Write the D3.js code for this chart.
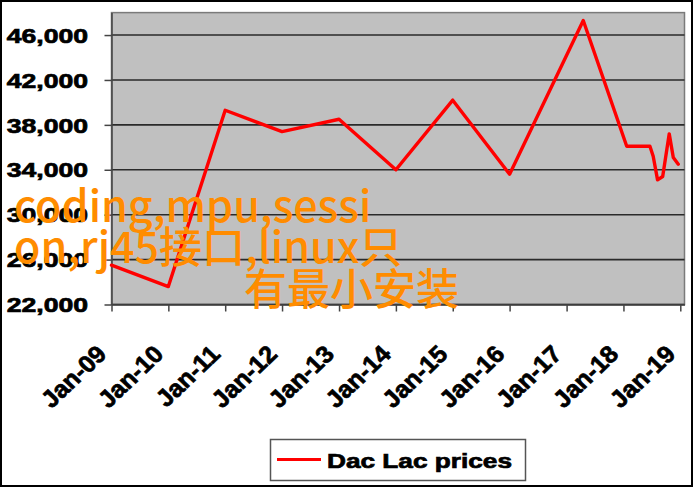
<!DOCTYPE html>
<html>
<head>
<meta charset="utf-8">
<script src="https://cdn.jsdelivr.net/npm/d3@7"></script>
<style>
  html, body { margin: 0; padding: 0; background: #fff; }
  svg { display: block; }
</style>
</head>
<body>
<svg id="chart" width="694" height="489"></svg>
<script>
// ---- data ----
const dates = ["2009-01-01","2010-01-01","2011-01-01","2012-01-01","2013-01-01","2014-01-01","2015-01-01","2016-01-01","2017-04-18","2018-01-22","2018-06-20","2018-07-11","2018-08-08","2018-09-10","2018-10-22","2018-11-17","2018-12-19"];
const prices = [25500, 23600, 39300, 37400, 38500, 34000, 40200, 33600, 47300, 36100, 36100, 35200, 33100, 33400, 37200, 35100, 34500];
const yTicks = [22000, 26000, 30000, 34000, 38000, 42000, 46000];
const xTickLabels = ["Jan-09","Jan-10","Jan-11","Jan-12","Jan-13","Jan-14","Jan-15","Jan-16","Jan-17","Jan-18","Jan-19"];
const xTickDates = ["2009-01-01","2010-01-01","2011-01-01","2012-01-01","2013-01-01","2014-01-01","2015-01-01","2016-01-01","2017-01-01","2018-01-01","2019-01-01"];
const seriesName = "Dac Lac prices";
const overlayLines = ["coding,mpu,sessi", "on,rj45接口,linux只", "有最小安装"];

(function () {
const SX = 1.33;  // horizontal text stretch
const SXR = 1.05; // stretch for rotated labels
const parse = d3.timeParse("%Y-%m-%d");
const svg = d3.select("#chart");

const pLeft = 111.5, pRight = 684.5, pTop = 12.6, pBottom = 304.5;
const x = d3.scaleTime().domain([parse("2009-01-01"), parse("2019-01-28")]).range([pLeft, pRight]);
const y = d3.scaleLinear().domain([22000, 48000]).range([pBottom, pTop]);

const boldText = sel => sel
  .attr("font-family", "Liberation Sans, Arial, sans-serif")
  .attr("font-weight", "bold").attr("fill", "#000")
  .attr("stroke", "#000").attr("stroke-width", 0.7);

// outer frame
svg.append("rect").attr("x", 1).attr("y", 1).attr("width", 691).attr("height", 485)
  .attr("fill", "#fff").attr("stroke", "#000").attr("stroke-width", 2);

// plot area
svg.append("rect").attr("x", pLeft).attr("y", pTop).attr("width", pRight - pLeft).attr("height", pBottom - pTop)
  .attr("fill", "#c0c0c0").attr("stroke", "#7a7a7a").attr("stroke-width", 1.5);

// gridlines
svg.append("g").selectAll("line").data(yTicks).join("line")
  .attr("x1", pLeft).attr("x2", pRight)
  .attr("y1", d => y(d)).attr("y2", d => y(d))
  .attr("stroke", "#2a2a2a").attr("stroke-width", 1.6);

// y axis
const yAxis = svg.append("g").attr("transform", `translate(${pLeft},0)`)
  .call(d3.axisLeft(y).tickValues(yTicks).tickSize(7).tickSizeOuter(0).tickFormat(d3.format(",")));
yAxis.select(".domain").attr("stroke", "#444").attr("stroke-width", 1.5);
yAxis.selectAll(".tick line").attr("stroke", "#444").attr("stroke-width", 1.5);
yAxis.selectAll(".tick text")
  .attr("x", -23.5 / SX).attr("dy", "0.36em")
  .attr("transform", `scale(${SX},1)`)
  .attr("font-size", 20)
  .call(boldText);

// x axis
const xAxis = svg.append("g").attr("transform", `translate(0,${pBottom})`)
  .call(d3.axisBottom(x).tickValues(xTickDates.map(parse)).tickSize(7).tickSizeOuter(0)
    .tickFormat((d, i) => xTickLabels[i]));
xAxis.select(".domain").attr("stroke", "#444").attr("stroke-width", 1.5);
xAxis.selectAll(".tick line").attr("stroke", "#444").attr("stroke-width", 1.5);
xAxis.selectAll(".tick text")
  .attr("x", 0).attr("y", 0).attr("dy", 0)
  .attr("text-anchor", "end")
  .attr("transform", `translate(-4,51) scale(${SXR},1) rotate(-45)`)
  .attr("font-size", 24)
  .call(boldText);

// line
const line = d3.line().x((d, i) => x(parse(dates[i]))).y(d => y(d));
svg.append("path").datum(prices)
  .attr("d", line)
  .attr("fill", "none").attr("stroke", "#ff0000").attr("stroke-width", 3.4)
  .attr("stroke-linejoin", "round").attr("stroke-linecap", "round");

// legend
const lg = svg.append("g");
lg.append("rect").attr("x", 270.5).attr("y", 439.5).attr("width", 255).attr("height", 41)
  .attr("fill", "#fff").attr("stroke", "#555").attr("stroke-width", 1.5);
lg.append("line").attr("x1", 277).attr("x2", 321).attr("y1", 459.5).attr("y2", 459.5)
  .attr("stroke", "#ff0000").attr("stroke-width", 3);
lg.append("text").attr("x", 327 / SX).attr("y", 468)
  .attr("transform", `scale(${SX},1)`)
  .attr("font-size", 21)
  .call(boldText)
  .attr("textLength", 185 / SX).attr("lengthAdjust", "spacingAndGlyphs")
  .text(seriesName);

// overlay text
const ov = svg.append("g").attr("font-family", "Noto Sans CJK SC, sans-serif")
  .attr("font-size", 43).attr("font-weight", 500).attr("fill", "#ff8c00");
const ovPos = [[14, 222], [14, 263], [244, 305]];
ov.selectAll("text").data(overlayLines).join("text")
  .attr("x", (d, i) => ovPos[i][0]).attr("y", (d, i) => ovPos[i][1])
  .text(d => d);
})();
</script>
</body>
</html>
